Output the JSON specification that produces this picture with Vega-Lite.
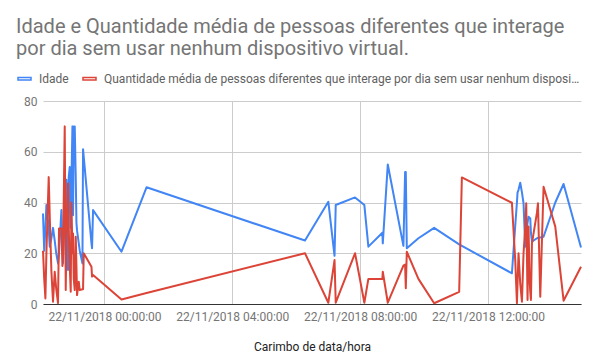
{
  "$schema": "https://vega.github.io/schema/vega-lite/v6.json",
  "width": 538,
  "height": 203,
  "autosize": {"type": "none"},
  "padding": {"left": 43, "top": 101, "right": 13, "bottom": 60},
  "background": "white",
  "config": {"view": {"stroke": null}},
  "title": {
    "text": ["Idade e Quantidade média de pessoas diferentes que interage", "por dia sem usar nenhum dispositivo virtual."],
    "anchor": "start",
    "frame": "group",
    "font": "Roboto",
    "fontSize": 20,
    "fontWeight": "normal",
    "color": "#757575",
    "lineHeight": 22,
    "dx": -27,
    "offset": 12
  },
  "data": {"values": [
    {"t": "2018-11-21T22:04:35", "Idade": 35.7, "Qtd": 21},
    {"t": "2018-11-21T22:06:50", "Idade": 21, "Qtd": 10},
    {"t": "2018-11-21T22:09:06", "Idade": 30, "Qtd": 2.2},
    {"t": "2018-11-21T22:10:59", "Idade": 39, "Qtd": 20},
    {"t": "2018-11-21T22:15:18", "Idade": 30, "Qtd": 50},
    {"t": "2018-11-21T22:17:11", "Idade": 22.6, "Qtd": 35},
    {"t": "2018-11-21T22:20:23", "Idade": 26, "Qtd": 12.7},
    {"t": "2018-11-21T22:23:23", "Idade": 30, "Qtd": 0.9},
    {"t": "2018-11-21T22:26:35", "Idade": 25, "Qtd": 12.7},
    {"t": "2018-11-21T22:29:24", "Idade": 20, "Qtd": 6},
    {"t": "2018-11-21T22:32:47", "Idade": 16, "Qtd": 0.3},
    {"t": "2018-11-21T22:34:40", "Idade": 20, "Qtd": 29.8},
    {"t": "2018-11-21T22:39:10", "Idade": 37, "Qtd": 29.8},
    {"t": "2018-11-21T22:41:03", "Idade": 25, "Qtd": 15},
    {"t": "2018-11-21T22:42:11", "Idade": 16, "Qtd": 20},
    {"t": "2018-11-21T22:45:23", "Idade": 35, "Qtd": 70},
    {"t": "2018-11-21T22:47:16", "Idade": 45, "Qtd": 5.5},
    {"t": "2018-11-21T22:48:34", "Idade": 49, "Qtd": 25},
    {"t": "2018-11-21T22:51:35", "Idade": 13.4, "Qtd": 47.5},
    {"t": "2018-11-21T22:52:53", "Idade": 50, "Qtd": 30},
    {"t": "2018-11-21T22:54:46", "Idade": 54, "Qtd": 15},
    {"t": "2018-11-21T22:56:39", "Idade": 30, "Qtd": 4.8},
    {"t": "2018-11-21T22:57:58", "Idade": 48, "Qtd": 40},
    {"t": "2018-11-21T22:59:51", "Idade": 70, "Qtd": 20},
    {"t": "2018-11-21T23:00:59", "Idade": 35, "Qtd": 27.8},
    {"t": "2018-11-21T23:02:17", "Idade": 70, "Qtd": 10},
    {"t": "2018-11-21T23:04:10", "Idade": 70, "Qtd": 5.5},
    {"t": "2018-11-21T23:06:03", "Idade": 50, "Qtd": 26.5},
    {"t": "2018-11-21T23:07:22", "Idade": 32, "Qtd": 15},
    {"t": "2018-11-21T23:08:30", "Idade": 29, "Qtd": 3.5},
    {"t": "2018-11-21T23:11:41", "Idade": 24, "Qtd": 8.8},
    {"t": "2018-11-21T23:13:34", "Idade": 21, "Qtd": 5.5},
    {"t": "2018-11-21T23:18:39", "Idade": 16, "Qtd": 5.8},
    {"t": "2018-11-21T23:19:46", "Idade": 61, "Qtd": 5.8},
    {"t": "2018-11-21T23:21:05", "Idade": 58, "Qtd": 20},
    {"t": "2018-11-21T23:35:34", "Idade": 24, "Qtd": 14.7},
    {"t": "2018-11-21T23:36:41", "Idade": 22, "Qtd": 10.8},
    {"t": "2018-11-21T23:38:34", "Idade": 37, "Qtd": 11.4},
    {"t": "2018-11-22T00:31:57", "Idade": 20.6, "Qtd": 1.8},
    {"t": "2018-11-22T01:18:57", "Idade": 46, "Qtd": 4.3},
    {"t": "2018-11-22T06:16:30", "Idade": 25, "Qtd": 20},
    {"t": "2018-11-22T07:00:18", "Idade": 40.3, "Qtd": 0.5},
    {"t": "2018-11-22T07:11:58", "Idade": 19, "Qtd": 17.3},
    {"t": "2018-11-22T07:14:13", "Idade": 39, "Qtd": 0.5},
    {"t": "2018-11-22T07:50:29", "Idade": 42, "Qtd": 20},
    {"t": "2018-11-22T08:07:58", "Idade": 39, "Qtd": 0.5},
    {"t": "2018-11-22T08:15:29", "Idade": 22.6, "Qtd": 9.9},
    {"t": "2018-11-22T08:41:48", "Idade": 28.1, "Qtd": 9.9},
    {"t": "2018-11-22T08:42:34", "Idade": 23.9, "Qtd": 12.7},
    {"t": "2018-11-22T08:51:58", "Idade": 55, "Qtd": 0.5},
    {"t": "2018-11-22T09:21:17", "Idade": 22.9, "Qtd": 15.1},
    {"t": "2018-11-22T09:24:28", "Idade": 52, "Qtd": 15.5},
    {"t": "2018-11-22T09:25:47", "Idade": 52, "Qtd": 6.2},
    {"t": "2018-11-22T09:27:40", "Idade": 22, "Qtd": 20.6},
    {"t": "2018-11-22T09:49:28", "Idade": 25.9, "Qtd": 9.9},
    {"t": "2018-11-22T10:18:59", "Idade": 30, "Qtd": 0.3},
    {"t": "2018-11-22T11:05:59", "Idade": 23.5, "Qtd": 4.8},
    {"t": "2018-11-22T11:11:03", "Idade": 22.9, "Qtd": 49.9},
    {"t": "2018-11-22T12:45:02", "Idade": 12.1, "Qtd": 39.9},
    {"t": "2018-11-22T12:51:14", "Idade": 30.8, "Qtd": 17.3},
    {"t": "2018-11-22T12:54:26", "Idade": 40, "Qtd": 0.3},
    {"t": "2018-11-22T12:55:34", "Idade": 43.9, "Qtd": 8},
    {"t": "2018-11-22T12:57:26", "Idade": 45, "Qtd": 20},
    {"t": "2018-11-22T13:00:38", "Idade": 47.8, "Qtd": 8},
    {"t": "2018-11-22T13:03:50", "Idade": 44, "Qtd": 0.9},
    {"t": "2018-11-22T13:06:50", "Idade": 39.7, "Qtd": 20},
    {"t": "2018-11-22T13:10:02", "Idade": 22.6, "Qtd": 30},
    {"t": "2018-11-22T13:11:55", "Idade": 28, "Qtd": 39.7},
    {"t": "2018-11-22T13:14:22", "Idade": 32, "Qtd": 1.6},
    {"t": "2018-11-22T13:16:14", "Idade": 34.4, "Qtd": 30.5},
    {"t": "2018-11-22T13:18:07", "Idade": 34, "Qtd": 10.1},
    {"t": "2018-11-22T13:19:26", "Idade": 33.8, "Qtd": 5},
    {"t": "2018-11-22T13:20:45", "Idade": 28, "Qtd": 1.6},
    {"t": "2018-11-22T13:22:38", "Idade": 24.6, "Qtd": 23.9},
    {"t": "2018-11-22T13:32:02", "Idade": 25.9, "Qtd": 36},
    {"t": "2018-11-22T13:33:55", "Idade": 26, "Qtd": 39.7},
    {"t": "2018-11-22T13:38:14", "Idade": 26.2, "Qtd": 2.9},
    {"t": "2018-11-22T13:44:26", "Idade": 26.5, "Qtd": 46.2},
    {"t": "2018-11-22T14:06:26", "Idade": 40, "Qtd": 30.5},
    {"t": "2018-11-22T14:22:02", "Idade": 47.3, "Qtd": 1.3},
    {"t": "2018-11-22T14:54:44", "Idade": 22.3, "Qtd": 14.7}
  ]},
  "transform": [{"fold": ["Idade", "Qtd"], "as": ["serie", "valor"]}],
  "mark": {"type": "line", "strokeWidth": 2, "strokeJoin": "round"},
  "encoding": {
    "x": {
      "field": "t",
      "type": "temporal",
      "title": "Carimbo de data/hora",
      "scale": {"nice": false},
      "axis": {
        "values": [
          {"year": 2018, "month": 11, "date": 22, "hours": 0},
          {"year": 2018, "month": 11, "date": 22, "hours": 4},
          {"year": 2018, "month": 11, "date": 22, "hours": 8},
          {"year": 2018, "month": 11, "date": 22, "hours": 12}
        ],
        "format": "%d/%m/%Y %H:%M:%S",
        "labelFont": "Roboto",
        "labelFontSize": 12,
        "labelColor": "#757575",
        "labelOverlap": false,
        "labelFlush": false,
        "labelPadding": 7,
        "ticks": false,
        "domainColor": "#333333",
        "domainWidth": 1,
        "gridColor": "#cccccc",
        "titleFont": "Roboto",
        "titleFontSize": 12,
        "titleFontWeight": "normal",
        "titleColor": "#222222",
        "titlePadding": 19
      }
    },
    "y": {
      "field": "valor",
      "type": "quantitative",
      "scale": {"domain": [0, 80], "nice": false},
      "axis": {
        "values": [0, 20, 40, 60, 80],
        "title": null,
        "domain": false,
        "ticks": false,
        "labelPadding": 6,
        "labelFont": "Roboto",
        "labelFontSize": 12,
        "labelColor": "#757575",
        "gridColor": "#cccccc"
      }
    },
    "color": {
      "field": "serie",
      "type": "nominal",
      "scale": {"domain": ["Idade", "Qtd"], "range": ["#4285F4", "#DB4437"]},
      "legend": {
        "title": null,
        "orient": "none",
        "direction": "horizontal",
        "legendX": -26,
        "legendY": -30,
        "symbolType": "M-1,-0.2L1,-0.2L1,0.2L-1,0.2Z",
        "symbolSize": 169,
        "labelFont": "Roboto",
        "labelFontSize": 12,
        "labelColor": "#616161",
        "labelOffset": 7,
        "columnPadding": 11,
        "labelLimit": 478,
        "labelExpr": "datum.label == 'Qtd' ? 'Quantidade média de pessoas diferentes que interage por dia sem usar nenhum dispositivo virtual.' : datum.label"
      }
    }
  }
}
